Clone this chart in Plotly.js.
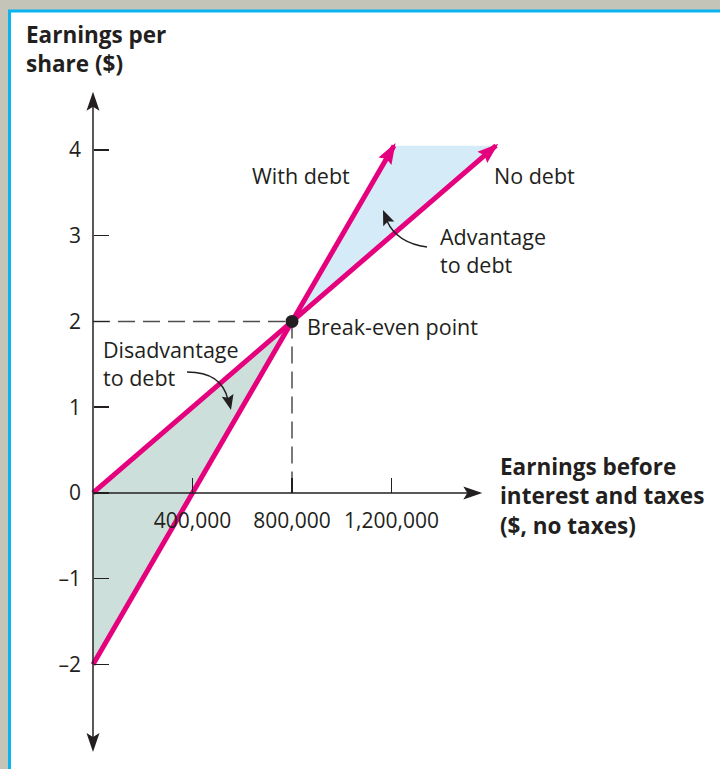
<!DOCTYPE html>
<html>
<head>
<meta charset="utf-8">
<script src="https://cdn.plot.ly/plotly-3.0.1.min.js"></script>
<style>html,body{margin:0;padding:0;background:#c4c5b8;}#chart{width:720px;height:769px;}</style>
</head>
<body>
<div id="chart"></div>
<script>
// ---- data ----
const ebitTicks = [400000, 800000, 1200000];
const ebitTickText = ['400,000', '800,000', '1,200,000'];
const epsTicks = [-2, -1, 0, 1, 2, 3, 4];
const epsTickText = ['\u20132', '\u20131', '0', '1', '2', '3', '4'];

const noDebtX = [0, 800000, 1620000];
const noDebtY = [0, 2, 4.05];
const withDebtX = [0, 400000, 800000, 1210000];
const withDebtY = [-2, 0, 2, 4.05];
const breakEvenX = [800000];
const breakEvenY = [2];

const advantageX = [800000, 1210000, 1620000];
const advantageY = [2, 4.05, 4.05];
const disadvantageX = [0, 800000, 0];
const disadvantageY = [0, 2, -2];

const xAxisEnd = 1565000;
const yAxisTop = 4.68;
const yAxisBottom = -3.02;

// ---- layout helpers ----
const W = 720, H = 769;
const XR = [-373869, 2520603];
const YR = [-3.219, 5.749];
const xpx = v => (v - XR[0]) / (XR[1] - XR[0]) * W;
const ypx = v => (YR[1] - v) / (YR[1] - YR[0]) * H;
const PX = x => x / W;
const PY = y => 1 - y / H;
const P = (x, y) => PX(x) + ',' + PY(y);

const INK = '#231f20';
const MAGENTA = '#e5007d';
const FONT = 'Open Sans, Noto Sans, sans-serif';
const TXT = 21.5;
const BOLD = 22.5;

// arrowhead path (pixel tip + direction) -> paper-coordinate shape
function head(tx, ty, dx, dy, len, hw, notch, color) {
  const n = Math.hypot(dx, dy); dx /= n; dy /= n;
  const bx = tx - dx * len, by = ty - dy * len;
  const px = -dy, py = dx;
  const nx = tx - dx * (len - notch), ny = ty - dy * (len - notch);
  const path = 'M ' + P(tx, ty) + ' L ' + P(bx + px * hw, by + py * hw) + ' L ' + P(nx, ny) +
               ' L ' + P(bx - px * hw, by - py * hw) + ' Z';
  return {type: 'path', xref: 'paper', yref: 'paper', path: path, fillcolor: color,
          line: {width: 0, color: color}, layer: 'above'};
}
function lineHead(xs, ys, ext, color) {
  const n = xs.length;
  const x1 = xpx(xs[n-1]), y1 = ypx(ys[n-1]);
  const x0 = xpx(xs[n-2]), y0 = ypx(ys[n-2]);
  const dx = x1 - x0, dy = y1 - y0, L = Math.hypot(dx, dy);
  return head(x1 + dx / L * ext, y1 + dy / L * ext, dx, dy, 21, 7.5, 3, color);
}

const traces = [
  {x: advantageX, y: advantageY, mode: 'lines', fill: 'toself', fillcolor: '#d5ebf8',
   line: {width: 0, color: 'rgba(0,0,0,0)'}, hoverinfo: 'skip'},
  {x: disadvantageX, y: disadvantageY, mode: 'lines', fill: 'toself', fillcolor: '#cddfdb',
   line: {width: 0, color: 'rgba(0,0,0,0)'}, hoverinfo: 'skip'},
  {x: [0, breakEvenX[0]], y: [breakEvenY[0], breakEvenY[0]], mode: 'lines',
   line: {color: '#4d4d4d', width: 1.5, dash: '17px,8px'}},
  {x: [breakEvenX[0], breakEvenX[0]], y: [breakEvenY[0], 0], mode: 'lines',
   line: {color: '#4d4d4d', width: 1.5, dash: '17px,8px'}},
  {x: noDebtX, y: noDebtY, mode: 'lines', line: {color: MAGENTA, width: 5}},
  {x: withDebtX, y: withDebtY, mode: 'lines', line: {color: MAGENTA, width: 5}},
  {x: breakEvenX, y: breakEvenY, mode: 'markers', marker: {color: INK, size: 13}}
];

const annotations = [
  {x: PX(24), y: PY(49), xref: 'paper', yref: 'paper', xanchor: 'left', yanchor: 'middle', align: 'left',
   text: '<b>Earnings per<br>share ($)</b>', showarrow: false, font: {size: BOLD, color: INK}},
  {x: PX(498), y: PY(496), xref: 'paper', yref: 'paper', xanchor: 'left', yanchor: 'middle', align: 'left',
   text: '<b>Earnings before<br>interest and taxes<br>($, no taxes)</b>', showarrow: false, font: {size: BOLD, color: INK}},
  {x: PX(250), y: PY(175), xref: 'paper', yref: 'paper', xanchor: 'left', yanchor: 'middle',
   text: 'With debt', showarrow: false, font: {size: TXT, color: INK}},
  {x: PX(492), y: PY(175), xref: 'paper', yref: 'paper', xanchor: 'left', yanchor: 'middle',
   text: 'No debt', showarrow: false, font: {size: TXT, color: INK}},
  {x: PX(438), y: PY(250), xref: 'paper', yref: 'paper', xanchor: 'left', yanchor: 'middle', align: 'left',
   text: 'Advantage<br>to debt', showarrow: false, font: {size: TXT, color: INK}},
  {x: PX(305), y: PY(326), xref: 'paper', yref: 'paper', xanchor: 'left', yanchor: 'middle',
   text: 'Break-even point', showarrow: false, font: {size: TXT, color: INK}},
  {x: PX(101), y: PY(364), xref: 'paper', yref: 'paper', xanchor: 'left', yanchor: 'middle', align: 'left',
   text: 'Disadvantage<br>to debt', showarrow: false, font: {size: TXT, color: INK}}
];

const AX_LEN = 19, AX_HW = 6.5, AX_NOTCH = 4;
const x0px = xpx(0), y0px = ypx(0);
const yTopPx = ypx(yAxisTop), yBotPx = ypx(yAxisBottom), xEndPx = xpx(xAxisEnd);

const shapes = [
  {type: 'rect', xref: 'paper', yref: 'paper', x0: PX(9.5), x1: 1.05, y0: -0.05, y1: PY(11),
   fillcolor: '#ffffff', line: {color: '#0ab4ee', width: 3}, layer: 'below'},
  // axis lines
  {type: 'line', xref: 'paper', yref: 'paper', x0: PX(x0px), x1: PX(x0px),
   y0: PY(yTopPx + AX_LEN - AX_NOTCH), y1: PY(yBotPx - AX_LEN + AX_NOTCH), line: {color: INK, width: 1.5}},
  {type: 'line', xref: 'paper', yref: 'paper', x0: PX(x0px), x1: PX(xEndPx - AX_LEN + AX_NOTCH),
   y0: PY(y0px), y1: PY(y0px), line: {color: INK, width: 1.5}},
  head(x0px, yTopPx, 0, -1, AX_LEN, AX_HW, AX_NOTCH, INK),
  head(x0px, yBotPx, 0, 1, AX_LEN, AX_HW, AX_NOTCH, INK),
  head(xEndPx, y0px, 1, 0, AX_LEN, AX_HW, AX_NOTCH, INK),
  // magenta arrowheads
  lineHead(noDebtX, noDebtY, 3, MAGENTA),
  lineHead(withDebtX, withDebtY, 3, MAGENTA),
  // curved callout arrows
  {type: 'path', xref: 'paper', yref: 'paper', path: 'M ' + P(427, 247) + ' Q ' + P(397, 243) + ' ' + P(387, 221),
   line: {color: INK, width: 1.5}},
  head(383, 210, -5, -12, 15, 6, 2.5, INK),
  {type: 'path', xref: 'paper', yref: 'paper', path: 'M ' + P(187, 372) + ' Q ' + P(222, 372) + ' ' + P(228, 400),
   line: {color: INK, width: 1.5}},
  head(231, 410, 3, 13, 15, 6, 2.5, INK)
];

const layout = {
  width: W, height: H,
  margin: {l: 0, r: 0, t: 0, b: 0, pad: 0},
  paper_bgcolor: '#c4c5b8',
  plot_bgcolor: 'rgba(0,0,0,0)',
  showlegend: false,
  font: {family: FONT, color: INK, size: TXT},
  xaxis: {
    range: XR, anchor: 'free', position: 0.35891,
    tickvals: ebitTicks, ticktext: ebitTickText,
    ticks: 'inside', ticklen: 15, tickwidth: 1.5, tickcolor: INK,
    ticklabelstandoff: 13,
    tickfont: {size: 21, color: INK, family: FONT},
    showline: false, showgrid: false, zeroline: false, fixedrange: true
  },
  yaxis: {
    range: YR, anchor: 'free', position: 93 / 720,
    tickvals: epsTicks, ticktext: epsTickText,
    ticks: 'inside', ticklen: 15, tickwidth: 1.5, tickcolor: INK,
    ticklabelstandoff: 12,
    tickfont: {size: 21, color: INK, family: FONT},
    showline: false, showgrid: false, zeroline: false, fixedrange: true
  },
  shapes: shapes,
  annotations: annotations
};

Plotly.newPlot('chart', traces, layout, {staticPlot: true, displayModeBar: false});
</script>
</body>
</html>
